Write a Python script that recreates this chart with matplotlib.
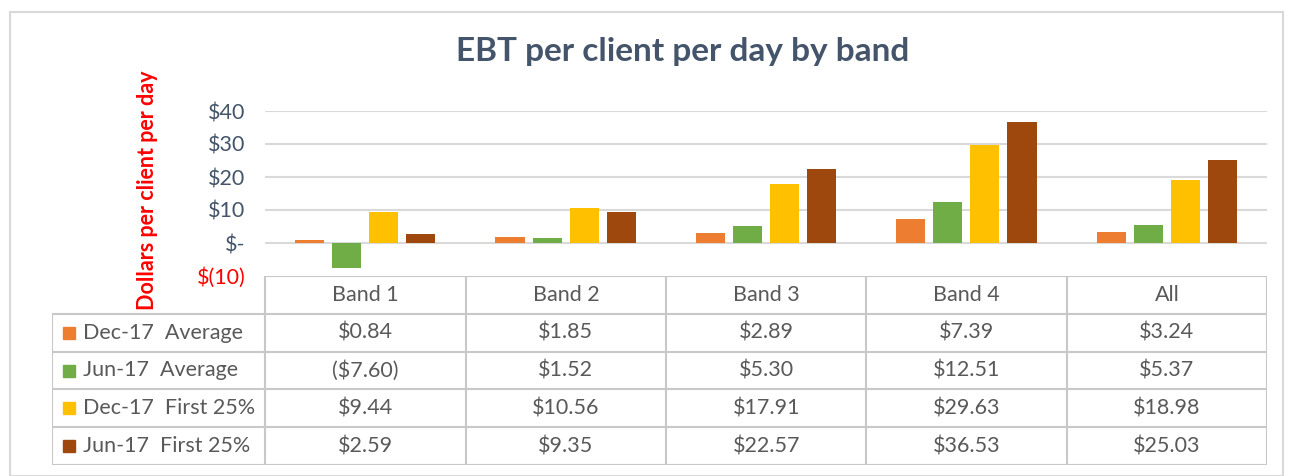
import matplotlib.pyplot as plt
import matplotlib.patches as patches
import numpy as np

# chart data
bands = ["Band 1", "Band 2", "Band 3", "Band 4", "All"]
series_names = ["Dec-17  Average", "Jun-17  Average", "Dec-17  First 25%", "Jun-17  First 25%"]
dec17_avg = [0.84, 1.85, 2.89, 7.39, 3.24]
jun17_avg = [-7.60, 1.52, 5.30, 12.51, 5.37]
dec17_first25 = [9.44, 10.56, 17.91, 29.63, 18.98]
jun17_first25 = [2.59, 9.35, 22.57, 36.53, 25.03]
colors = ["#ED7D31", "#70AD47", "#FFC000", "#9E480E"]
yticks = [-10, 0, 10, 20, 30, 40]
ytick_labels = ["$(10)", "$-", "$10", "$20", "$30", "$40"]

series = [dec17_avg, jun17_avg, dec17_first25, jun17_first25]

plt.rcParams['font.family'] = ['Lato', 'DejaVu Sans']

W, H = 1293, 476
fig = plt.figure(figsize=(W / 100, H / 100), dpi=100)

# light frame around everything
fig.patches.append(patches.Rectangle((10 / W, 0.0), 1273 / W, 1 - 12 / H,
                                     transform=fig.transFigure, fill=False,
                                     edgecolor="#D9D9D9", lw=1.5))

# bar chart
ax = fig.add_axes([265 / W, (H - 276) / H, (1267 - 265) / W, (276 - 111) / H])
x = np.arange(len(bands))
width = 0.145
step = 0.185
for i, (vals, c) in enumerate(zip(series, colors)):
    ax.bar(x + (i - 1.5) * step, vals, width, color=c, zorder=3)

ax.set_xlim(-0.5, len(bands) - 0.5)
ax.set_ylim(-10, 40)
ax.set_yticks(yticks)
ax.set_yticklabels(ytick_labels, fontsize=15.5)
for lab, v in zip(ax.get_yticklabels(), yticks):
    lab.set_color("#FF0000" if v < 0 else "#44546A")
ax.set_xticks([])
for v in yticks[1:]:
    ax.axhline(v, color="#D9D9D9", lw=1.5, zorder=1)
for s in ax.spines.values():
    s.set_visible(False)
ax.tick_params(axis='y', length=0, pad=14)

fig.text(683 / W, 1 - 52 / H, "EBT per client per day by band", ha='center', va='center',
         fontsize=24, fontweight='bold', color="#44546A")
fig.text(148 / W, 1 - 190 / H, "Dollars per client per day", rotation=90, ha='center',
         va='center', fontsize=15.5, fontweight='bold', color="#FF0000")

# data table
left_edge = -0.5 - 213 / 200
tab = fig.add_axes([52 / W, (H - 465) / H, (1267 - 52) / W, (465 - 276) / H])
tab.set_xlim(left_edge, len(bands) - 0.5)
tab.set_ylim(len(series) + 1, 0)
tab.axis('off')
gc = "#C8C8C8"
tab.plot([-0.5, len(bands) - 0.5], [0, 0], color=gc, lw=1.5)
for r in range(1, len(series) + 2):
    tab.plot([left_edge, len(bands) - 0.5], [r, r], color=gc, lw=1.5)
tab.plot([left_edge, left_edge], [1, len(series) + 1], color=gc, lw=1.5)
for k in range(len(bands) + 1):
    tab.plot([k - 0.5, k - 0.5], [0, len(series) + 1], color=gc, lw=1.5)

tc = "#595959"
fs = 15.5
for j, b in enumerate(bands):
    tab.text(j, 0.5, b, ha='center', va='center', fontsize=fs, color=tc)


def money(v):
    return "(${:.2f})".format(-v) if v < 0 else "${:.2f}".format(v)


for i, (name, vals, c) in enumerate(zip(series_names, series, colors)):
    yy = i + 1.5
    tab.plot([left_edge + 0.085], [yy], marker='s', ms=9, color=c, ls='none')
    tab.text(left_edge + 0.155, yy, name, ha='left', va='center', fontsize=fs, color=tc)
    for j, v in enumerate(vals):
        tab.text(j, yy, money(v), ha='center', va='center', fontsize=fs, color=tc)

fig.savefig("out.png", dpi=100)
